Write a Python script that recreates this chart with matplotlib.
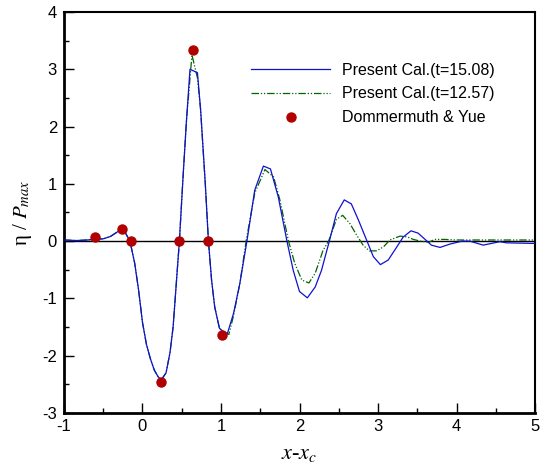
import numpy as np
import matplotlib
matplotlib.use('agg')
import matplotlib.pyplot as plt
import matplotlib.ticker as tkr

plt.rcParams['font.family'] = ['Liberation Sans', 'DejaVu Sans']
plt.rcParams['mathtext.fontset'] = 'stix'
plt.rcParams['axes.unicode_minus'] = False

# present calculation, t=15.08
x_t1508 = [-1.0, -0.84, -0.7, -0.6, -0.5, -0.41, -0.31, -0.26, -0.22, -0.16,
           -0.1, -0.05, 0.0, 0.05, 0.1, 0.15, 0.2, 0.24, 0.3, 0.35,
           0.39, 0.43, 0.47, 0.52, 0.56, 0.605, 0.7, 0.74, 0.8, 0.84,
           0.88, 0.92, 0.98, 1.03, 1.08, 1.16, 1.24, 1.33, 1.43, 1.54,
           1.63, 1.73, 1.84, 1.92, 2.0, 2.1, 2.2, 2.28, 2.38, 2.47,
           2.57, 2.66, 2.75, 2.86, 2.94, 3.03, 3.13, 3.24, 3.32, 3.42,
           3.51, 3.6, 3.68, 3.79, 3.92, 4.07, 4.17, 4.34, 4.55, 4.64,
           5.0]
y_t1508 = [0.02, 0.01, 0.02, 0.035, 0.04, 0.08, 0.17, 0.2, 0.15, 0.0,
           -0.38, -0.85, -1.42, -1.8, -2.05, -2.25, -2.37, -2.42, -2.3, -1.95,
           -1.5, -0.75, 0.0, 1.2, 2.1, 3.0, 2.94, 2.3, 1.0, 0.0,
           -0.68, -1.15, -1.52, -1.58, -1.62, -1.26, -0.74, 0.0, 0.89, 1.31,
           1.26, 0.77, 0.0, -0.51, -0.88, -0.99, -0.8, -0.51, 0.0, 0.48,
           0.72, 0.65, 0.37, 0.0, -0.27, -0.41, -0.33, -0.1, 0.07, 0.18,
           0.14, 0.03, -0.07, -0.11, -0.05, 0.0, 0.0, -0.07, -0.01, -0.03,
           -0.04]

# present calculation, t=12.57
x_t1257 = [-1.0, -0.84, -0.7, -0.6, -0.5, -0.41, -0.31, -0.26, -0.22, -0.16,
           -0.1, -0.05, 0.0, 0.05, 0.1, 0.15, 0.2, 0.24, 0.3, 0.35,
           0.39, 0.43, 0.47, 0.52, 0.56, 0.63, 0.7, 0.74, 0.8, 0.84,
           0.88, 0.92, 0.98, 1.03, 1.1, 1.16, 1.24, 1.32, 1.43, 1.56,
           1.67, 1.75, 1.86, 1.94, 2.03, 2.12, 2.2, 2.3, 2.37, 2.47,
           2.55, 2.64, 2.73, 2.81, 2.89, 2.98, 3.07, 3.15, 3.28, 3.37,
           3.45, 3.54, 3.65, 3.72, 3.85, 4.0, 4.2, 4.5, 4.8, 5.0]
y_t1257 = [0.02, 0.01, 0.02, 0.035, 0.04, 0.08, 0.17, 0.2, 0.15, 0.0,
           -0.38, -0.85, -1.42, -1.8, -2.05, -2.25, -2.37, -2.42, -2.3, -1.95,
           -1.5, -0.75, 0.0, 1.2, 2.1, 3.25, 2.85, 2.3, 1.0, 0.0,
           -0.68, -1.15, -1.52, -1.6, -1.63, -1.3, -0.74, 0.0, 0.84, 1.25,
           1.12, 0.72, 0.0, -0.39, -0.68, -0.73, -0.56, -0.16, 0.0, 0.38,
           0.45, 0.31, 0.1, -0.07, -0.17, -0.17, -0.1, 0.02, 0.087, 0.075,
           0.03, 0.0, -0.02, 0.03, 0.03, 0.02, 0.02, 0.02, 0.02, 0.02]

# Dommermuth & Yue
x_dy = [-0.6, -0.26, -0.15, 0.236, 0.469, 0.64, 0.838, 1.009]
y_dy = [0.065, 0.22, 0.0, -2.455, 0.0, 3.345, 0.0, -1.646]

fig = plt.figure(figsize=[5.45, 4.70], dpi=100)
ax = fig.add_axes([0.1174, 0.1213, 0.8643, 0.8532])

ax.axhline(0, color='k', lw=1.0, zorder=1)
ax.plot(x_t1508, y_t1508, color='#1010d0', lw=0.9, label='Present Cal.(t=15.08)', zorder=3)
ax.plot(x_t1257, y_t1257, color='#006400', lw=0.9, dashes=(6, 1.5, 1, 1.5, 1, 1.5),
        label='Present Cal.(t=12.57)', zorder=2)
ax.plot(x_dy, y_dy, 'o', color='#b00000', ms=6.5, mec='#b00000', label='Dommermuth & Yue', zorder=4)

ax.set_xlim(-1, 5)
ax.set_ylim(-3, 4)
ax.xaxis.set_major_locator(tkr.MultipleLocator(1))
ax.xaxis.set_minor_locator(tkr.MultipleLocator(0.5))
ax.yaxis.set_major_locator(tkr.MultipleLocator(1))
ax.yaxis.set_minor_locator(tkr.MultipleLocator(0.5))
ax.tick_params(which='both', direction='in', top=False, right=False, width=1.0, labelsize=12)
ax.tick_params(which='major', length=7)
ax.tick_params(which='minor', length=3.5)
ax.tick_params(axis='x', pad=4)
ax.tick_params(axis='y', pad=5)

for side in ['left', 'bottom']:
    ax.spines[side].set_linewidth(2.0)
for side in ['top', 'right']:
    ax.spines[side].set_linewidth(1.5)

ax.set_xlabel(r'$x$-$x_c$', fontsize=16, family='Liberation Serif', labelpad=8)
ax.set_ylabel(r'η / $P_{max}$', fontsize=15, family='Liberation Serif', labelpad=6)

ax.legend(loc='upper left', bbox_to_anchor=(0.398, 0.874), frameon=False, fontsize=11.5,
          handlelength=4.9, handletextpad=0.8, labelspacing=0.56, borderpad=0, borderaxespad=0)

plt.savefig('out.png', dpi=100)
